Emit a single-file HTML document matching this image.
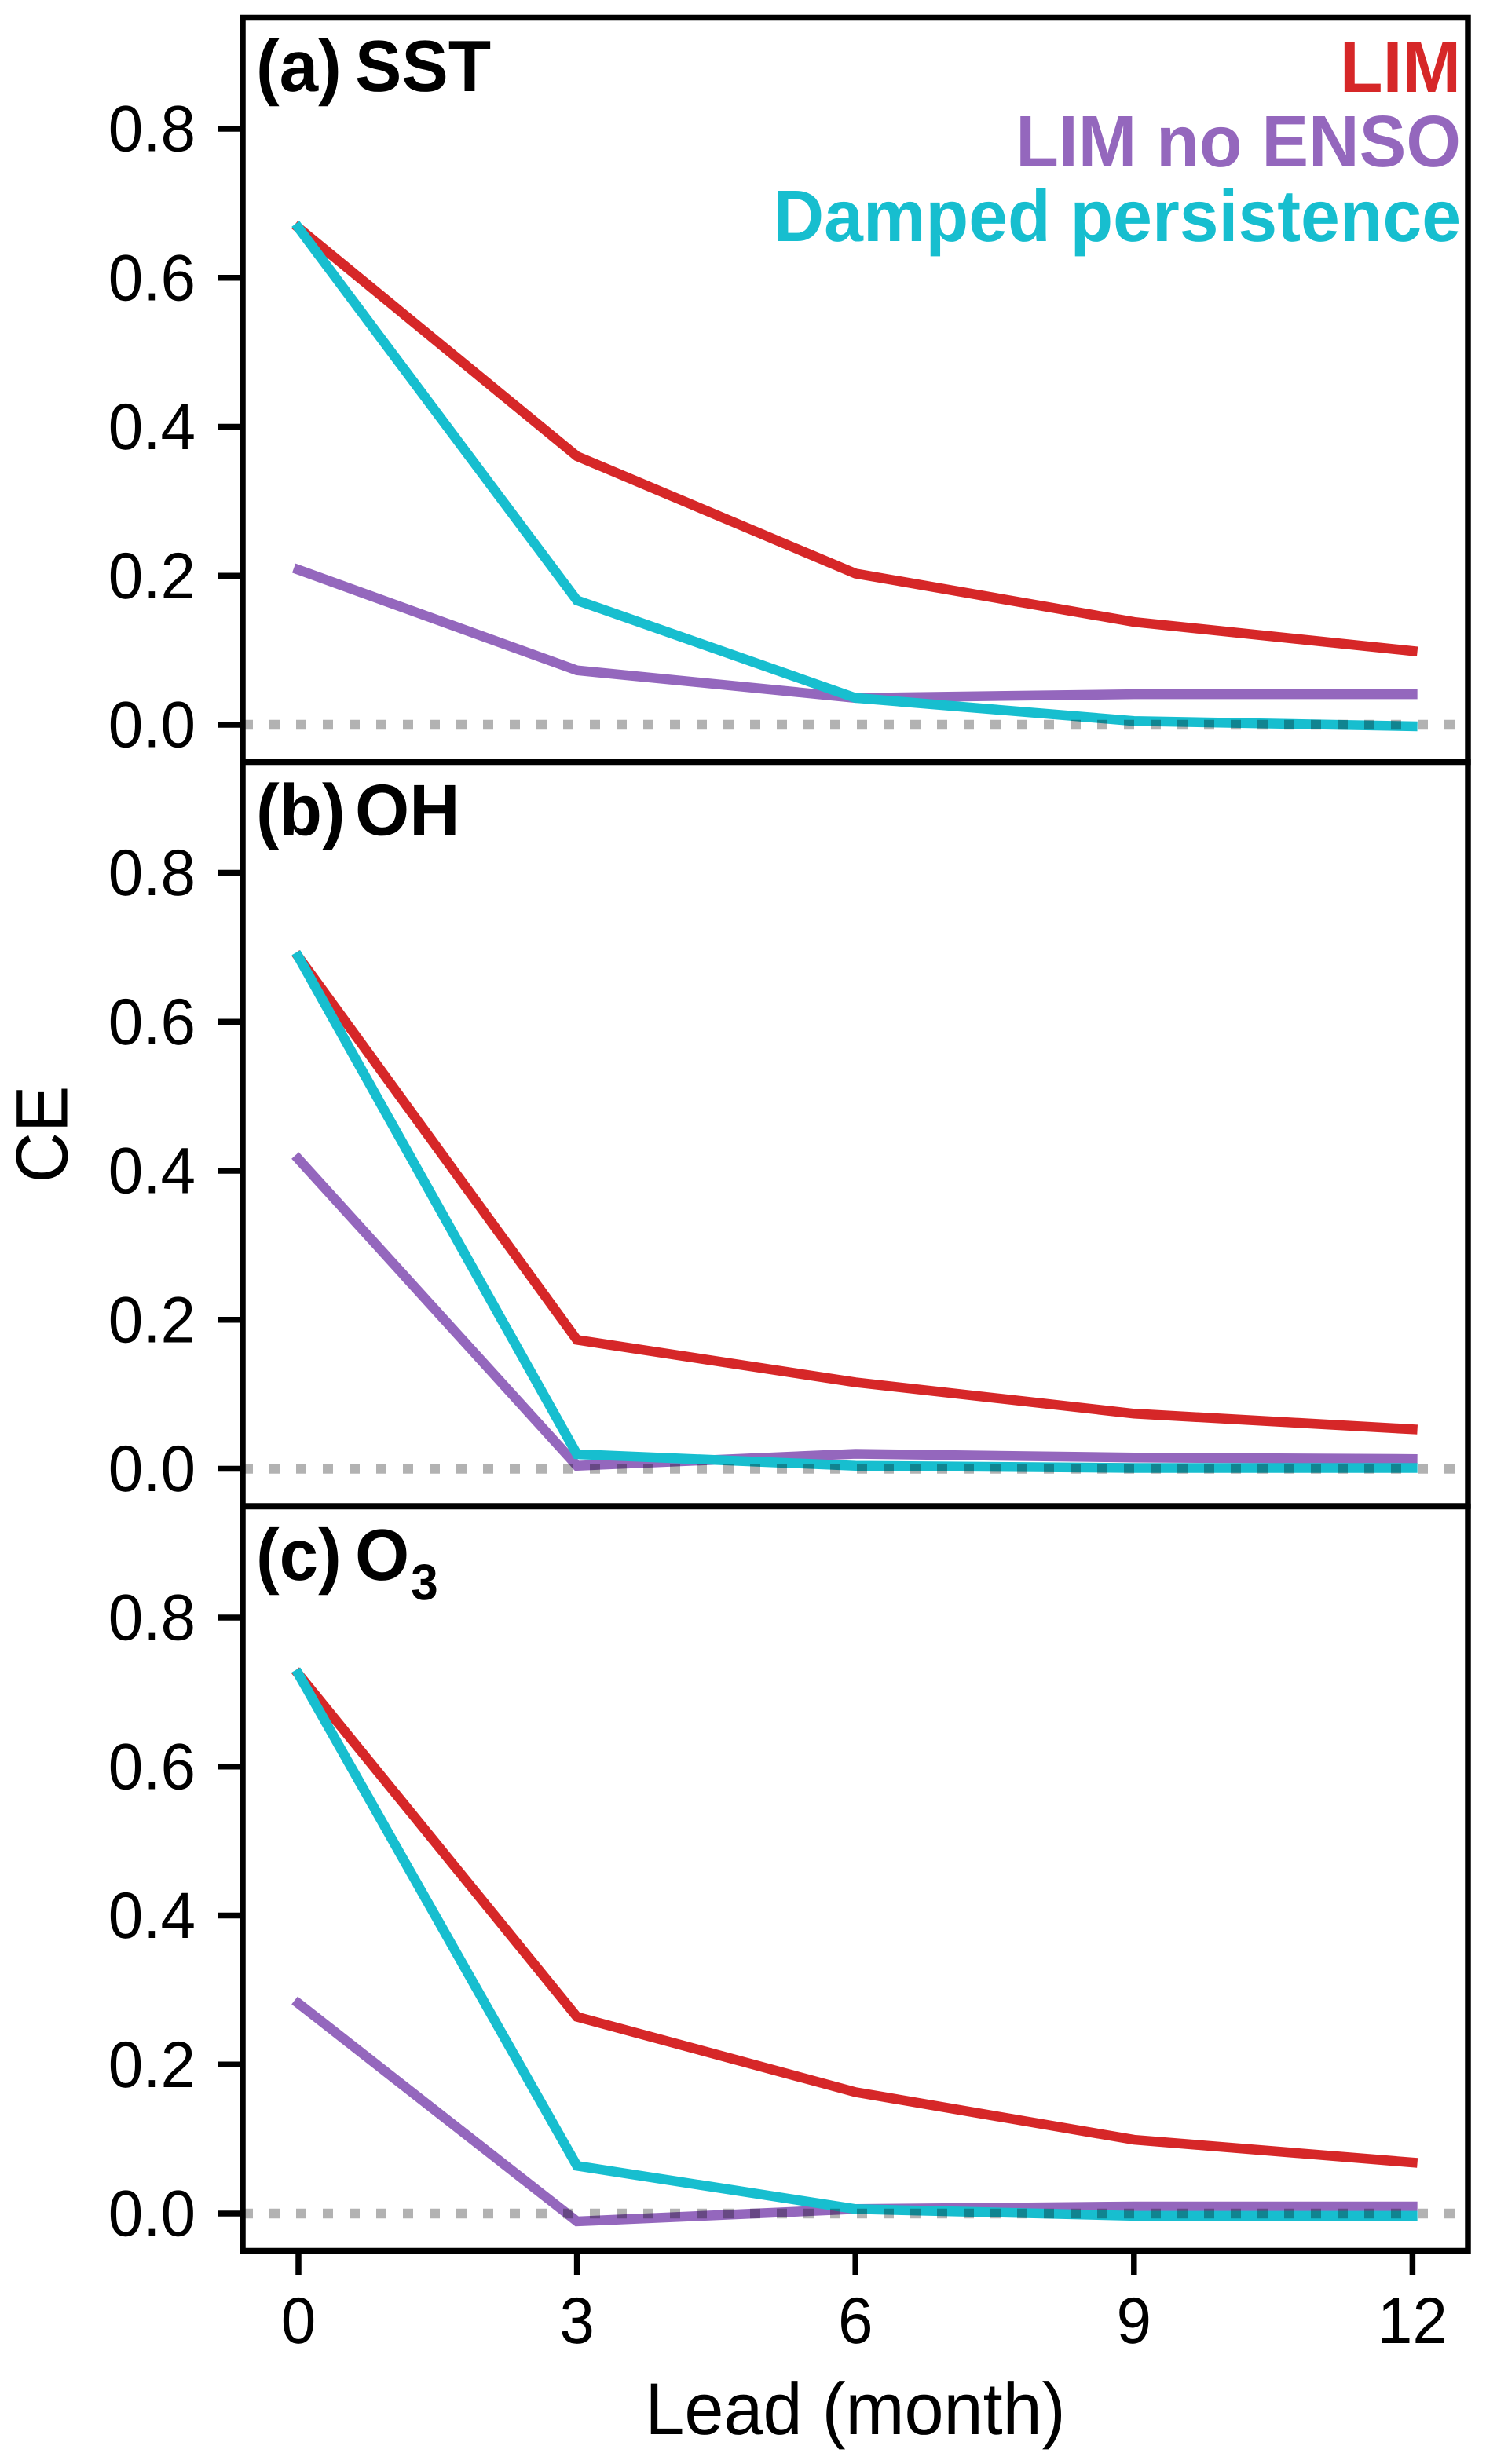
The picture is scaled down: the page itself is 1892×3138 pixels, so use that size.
<!DOCTYPE html>
<html lang="en">
<head>
<meta charset="utf-8">
<title>CE versus lead month</title>
<style>
html,body{margin:0;padding:0;background:#fff;}
svg{display:block;}
text{font-family:"Liberation Sans",Arial,sans-serif;fill:#000;text-rendering:geometricPrecision;}
</style>
</head>
<body>
<svg id="chart" xmlns="http://www.w3.org/2000/svg" width="1892" height="3138" viewBox="0 0 1892 3138">
<rect x="0" y="0" width="1892" height="3138" fill="#fff"/>
<text transform="translate(85.5 1444.5) rotate(-90) scale(1 1.05)" text-anchor="middle" font-size="89">CE</text>
<text transform="translate(1089 3100) scale(1 1.04)" text-anchor="middle" font-size="90">Lead (month)</text>
</svg>
<script>
const leads = [0, 3, 6, 9, 12];
const yTickValues = [0.0, 0.2, 0.4, 0.6, 0.8];
const seriesNames = ['LIM', 'LIM no ENSO', 'Damped persistence'];
const seriesColors = ['#d62728', '#9467bd', '#17becf'];
const panelLetters = ['(a)', '(b)', '(c)'];
const panelTitles = ['SST', 'OH', 'O'];

const sstLim = [0.667, 0.3605, 0.203, 0.138, 0.099];
const sstNoEnso = [0.208, 0.073, 0.036, 0.041, 0.041];
const sstDamped = [0.667, 0.167, 0.036, 0.005, -0.002];

const ohLim = [0.687, 0.173, 0.116, 0.074, 0.053];
const ohNoEnso = [0.4156, 0.004, 0.02, 0.015, 0.013];
const ohDamped = [0.687, 0.0195, 0.004, 0.001, 0.001];

const o3Lim = [0.724, 0.264, 0.163, 0.099, 0.0685];
const o3NoEnso = [0.282, -0.0105, 0.006, 0.0095, 0.0095];
const o3Damped = [0.724, 0.064, 0.006, -0.003, -0.003];

const panelValues = [
  [sstLim, sstNoEnso, sstDamped],
  [ohLim, ohNoEnso, ohDamped],
  [o3Lim, o3NoEnso, o3Damped]
];

const svg = document.getElementById('chart');
const NS = 'http://www.w3.org/2000/svg';
const axLeft = 309, axRight = 1869, panelHeight = 948;
const panelTops = [22.5, 970, 1918.5];
const zeroOffset = 900.5;
const yScale = 948.75;
const lineW = 12.5, spineW = 7.5;
const glyphStretch = 1.04;

function xPos(lead) { return 380 + (lead / 3) * 354.6; }
function yPos(panel, v) { return panelTops[panel] + zeroOffset - v * yScale; }
function make(tag, props, parent) {
  const el = document.createElementNS(NS, tag);
  for (const k in props) el.setAttribute(k, props[k]);
  (parent || svg).appendChild(el);
  return el;
}
function placed(x, y) { return 'translate(' + x + ' ' + y + ') scale(1 ' + glyphStretch + ')'; }

panelValues.forEach(function (seriesSet, p) {
  const g = make('g', {});
  
  

  seriesSet.forEach(function (values, s) {
    const pts = values.map(function (v, i) { return xPos(leads[i]) + ',' + yPos(p, v); }).join(' ');
    const line = make('polyline', { points: pts, fill: 'none', stroke: seriesColors[s], 'stroke-width': lineW, 'stroke-linecap': 'square', 'stroke-linejoin': 'miter' }, g);
    
    
  });

  const zero = make('line', { x1: axLeft, x2: axRight - 4, y1: yPos(p, 0), y2: yPos(p, 0), stroke: '#000', 'stroke-opacity': 0.3, 'stroke-width': lineW, 'stroke-dasharray': '13 21' }, g);
  
  

  yTickValues.forEach(function (v) {
    const y = yPos(p, v);
    const tick = make('line', { x1: axLeft - 31, x2: axLeft, y1: y, y2: y, stroke: '#000', 'stroke-width': spineW }, g);
    
    
    const lab = make('text', { transform: placed(249, y + 28.5), 'text-anchor': 'end', 'font-size': 80 }, g);
    lab.textContent = v.toFixed(1);
    
    
  });

  const frame = make('rect', { x: axLeft, y: panelTops[p], width: axRight - axLeft, height: panelHeight, fill: 'none', stroke: '#000', 'stroke-width': spineW }, g);
  
  

  const letter = make('text', { transform: placed(326, panelTops[p] + 93.5), 'font-size': 89, 'font-weight': 'bold' }, g);
  letter.textContent = panelLetters[p];
  
  

  const title = make('text', { transform: placed(452, panelTops[p] + 93.5), 'font-size': 89, 'font-weight': 'bold' }, g);
  title.textContent = panelTitles[p];
  
  
  if (p === 2) {
    const sub = make('tspan', { dx: 2, dy: 24, 'font-size': 62 }, title);
    sub.textContent = '3';
  }
});

leads.forEach(function (l) {
  const x = xPos(l);
  const tick = make('line', { x1: x, x2: x, y1: 2866, y2: 2897, stroke: '#000', 'stroke-width': spineW });
  
  
  const lab = make('text', { transform: placed(x, 2984), 'text-anchor': 'middle', 'font-size': 80 });
  lab.textContent = String(l);
  
  
});

const legendBaselines = [117, 212, 307];
seriesNames.forEach(function (name, s) {
  const t = make('text', { transform: placed(1860, legendBaselines[s]), 'text-anchor': 'end', 'font-size': 89.5, 'font-weight': 'bold' });
  t.style.fill = seriesColors[s];
  t.textContent = name;
  
  
});
</script>
</body>
</html>
